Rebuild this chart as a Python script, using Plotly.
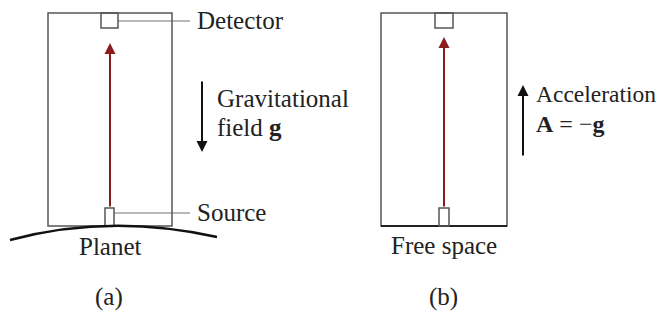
import plotly.graph_objects as go

# Text content
panel_labels = ["(a)", "(b)"]
ground_labels = ["Planet", "Free space"]
part_labels = ["Detector", "Source"]
field_label = ["Gravitational", "field <b>g</b>"]
accel_label = ["Acceleration", "<b>A</b> = −<b>g</b>"]

W, H = 665, 313
OFF = 8  # default page body margin
FONT = "Liberation Serif"
FS = 25
BOX = "#555555"
LEAD = "#a0a0a0"
RED = "#8b1c1c"

fig = go.Figure()
shapes = []
ann = []

def box(x0, y0, x1, y1, color=BOX, w=1.5):
    shapes.append(dict(type="rect", x0=x0, y0=y0, x1=x1, y1=y1,
                       line=dict(color=color, width=w), fillcolor="rgba(0,0,0,0)"))

def line(x0, y0, x1, y1, color=LEAD, w=1.5):
    shapes.append(dict(type="line", x0=x0, y0=y0, x1=x1, y1=y1,
                       line=dict(color=color, width=w)))

def arrow(xt, yt, xh, yh, color, w=2):
    ann.append(dict(x=xh, y=yh, ax=xt, ay=yt, xref="x", yref="y", axref="x", ayref="y",
                    text="", showarrow=True, arrowhead=2, arrowsize=1.1,
                    arrowwidth=w, arrowcolor=color, standoff=0, startstandoff=0))

def text(x, y, s, xanchor="left", size=FS):
    ann.append(dict(x=x, y=y, xref="x", yref="y", text=s, showarrow=False,
                    xanchor=xanchor, yanchor="middle", borderpad=0,
                    font=dict(family=FONT, size=size, color="#222")))

# Panel (a)
line(118, 21, 190, 21)
line(114, 213, 190, 213)
box(48, 13, 172, 226)
box(101, 13, 118, 28)
box(105, 208, 114, 226)
arrow(110, 208, 110, 43, RED)
shapes.append(dict(type="path", path="M 10 240 Q 110 213 217 237",
                   line=dict(color="#111", width=2.5)))
text(196, 20, part_labels[0])
text(196, 212, part_labels[1])
arrow(202, 80, 202, 152, "#111")
text(216, 98, field_label[0])
text(216, 127, field_label[1])
text(110, 246, ground_labels[0], "center")
text(109, 297, panel_labels[0], "center")

# Panel (b)
box(381, 13, 507, 226)
line(381, 226, 507, 226, "#222", 2)
box(435, 13, 453, 28)
box(439, 208, 449, 226)
arrow(444, 208, 444, 37, RED)
arrow(523, 157, 523, 85, "#111")
text(535, 94, accel_label[0], size=23.5)
text(535, 124, accel_label[1], size=24)
text(444, 245, ground_labels[1], "center")
text(443, 297, panel_labels[1], "center")

fig.update_layout(
    width=W - OFF, height=H - OFF, margin=dict(l=0, r=0, t=0, b=0),
    paper_bgcolor="white", plot_bgcolor="white",
    xaxis=dict(range=[OFF, W], visible=False, fixedrange=True),
    yaxis=dict(range=[H, OFF], visible=False, fixedrange=True),
    shapes=shapes, annotations=ann, showlegend=False,
)
fig.write_html("out.html", config={"displayModeBar": False})
